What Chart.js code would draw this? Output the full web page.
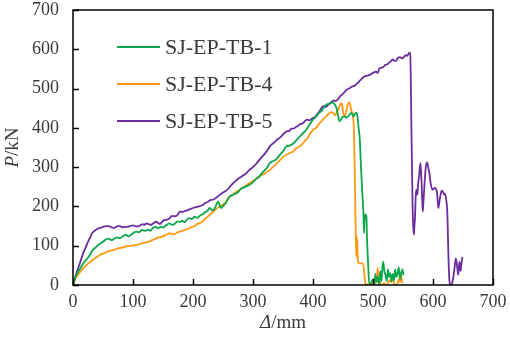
<!DOCTYPE html>
<html>
<head>
<meta charset="utf-8">
<script src="https://cdn.jsdelivr.net/npm/chart.js@4.4.1/dist/chart.umd.min.js"></script>
<style>
  html, body { margin: 0; padding: 0; background: #fff; }
  #c { display: block; }
</style>
</head>
<body>
<canvas id="c" width="510" height="342"></canvas>
<script>
// displacement (mm) / load (kN)
const tb1X = [0,4,8,12,17,22,27,33,38,42,46,50,55,60,64,68,73,78,83,88,92,96,101,106,110,115,120,125,129,133,138,142,146,150,155,161,165,170,174,178,182,186,190,194,198,203,207,212,216,220,224,228,232,235,239,242,245,247,251,254,258,261,266,270,275,280,285,290,294,300,305,310,314,318,323,328,333,337,340,345,350,356,361,367,372,378,383,387,390,395,400,405,410,415,418,422,426,430,433,436,439,442,444,447,450,453,456,460,464,467,470,472,474,476,478,480,482,484,485,486,487,489,490,492,494,497,500,502,504,506,508,510,512,514,516,517,519,521,523,525,527,529,531,533,535,537,539,541,543,545,547,549,551];
const tb1Y = [0,20,32,42,55,64,74,89,96,102,106,110,116,118,114,117,121,119,124,128,124,127,133,136,134,140,138,141,138,145,148,144,148,146,152,157,153,156,162,160,164,160,167,170,168,174,171,177,180,185,189,196,190,192,205,213,200,196,203,207,218,225,229,232,236,245,248,252,255,262,270,275,283,290,298,310,315,318,322,332,340,353,355,360,368,378,386,392,398,410,421,428,438,444,452,459,461,463,465,460,451,430,417,422,428,429,426,432,438,429,436,438,430,400,370,300,240,183,132,170,180,175,120,50,0,5,15,0,28,8,20,0,35,10,50,59,35,25,10,40,20,30,8,28,12,40,20,30,45,15,30,40,25];

const tb4X = [0,4,8,12,17,22,27,32,37,42,46,50,55,60,65,70,75,78,83,88,93,98,102,106,110,115,120,125,129,133,138,142,147,151,156,161,165,170,174,178,182,186,190,194,198,203,207,212,216,220,224,228,232,236,240,245,250,255,261,265,270,275,280,285,290,294,300,305,310,314,318,323,328,333,337,340,345,350,356,361,367,372,378,383,387,390,395,400,405,410,415,418,422,426,430,434,437,440,442,445,447,449,450,452,453,455,457,459,460,462,463,465,466,468,469,470,471,472,473,474,475,477,480,483,485,486,488,490,493,496,499,502,505,507,508,509,511,513,516,519,522,525,527,529,531,533,535,537,540,543,545,547,548,550];
const tb4Y = [0,15,25,33,43,50,57,63,69,73,78,80,83,86,88,90,93,94,96,98,99,100,101,102,104,106,108,110,112,115,118,121,122,125,128,132,129,130,134,136,138,140,142,145,148,150,155,158,162,168,173,179,184,190,195,200,205,212,225,228,235,240,245,250,255,259,265,270,276,280,282,288,293,300,305,310,318,325,332,336,340,348,353,360,368,372,385,395,400,410,418,424,429,436,440,438,432,440,446,458,463,455,440,432,429,440,455,463,465,460,450,440,438,400,340,250,150,72,123,100,60,55,55,55,40,20,0,2,0,5,0,3,8,30,43,20,10,0,2,4,0,5,12,8,18,21,5,0,0,15,8,30,10,5];

const tb5X = [0,4,8,12,17,21,25,29,32,35,38,41,44,47,50,55,60,64,68,72,75,78,82,86,90,95,100,104,108,112,116,119,122,126,130,134,139,142,145,148,152,156,161,165,170,174,178,182,186,190,195,200,205,210,215,220,225,229,233,237,241,245,250,255,259,263,267,271,275,280,285,289,294,300,305,311,316,320,324,328,333,337,340,345,350,356,361,364,367,372,375,378,383,387,390,394,397,400,404,407,410,413,417,421,425,430,435,438,441,445,449,452,456,460,465,470,475,478,482,485,490,495,500,505,508,510,514,518,520,524,527,530,533,536,539,542,545,548,550,553,555,557,559,560,562,563,564,565,566,567,568,569,570,571,572,573,574,575,577,579,580,581,582,583,584,586,588,590,592,594,596,599,601,604,606,607,608,609,610,612,614,615,617,619,620,622,624,625,626,627,628,630,632,634,636,638,640,642,643,644,645,646,647,649];
const tb5Y = [0,22,40,58,81,95,110,122,132,137,140,143,145,146,148,150,150,147,145,148,150,150,147,148,148,150,152,150,149,152,155,153,157,155,153,157,161,158,155,160,165,166,170,176,175,178,187,186,188,190,193,196,198,200,203,208,212,216,217,220,225,230,235,240,245,253,259,265,270,275,280,285,293,300,308,319,328,335,343,353,360,365,370,375,383,391,393,398,398,403,405,409,412,418,421,419,422,425,428,435,440,448,455,453,458,465,470,468,472,480,485,490,497,500,505,508,515,520,526,530,533,535,540,543,540,550,553,556,560,562,566,570,574,570,572,579,580,577,578,583,585,583,588,591,590,520,400,300,200,150,128,150,170,220,242,230,232,255,280,310,290,260,215,187,210,260,300,312,300,285,260,242,245,247,240,230,210,196,205,225,238,240,236,230,232,217,180,120,60,20,4,0,5,21,45,68,50,26,40,59,50,36,50,71];

const seriesNames = ['SJ-EP-TB-1', 'SJ-EP-TB-4', 'SJ-EP-TB-5'];
const seriesColors = ['#0aa84a', '#ff9a10', '#6a2c9e'];
const xTicks = [0, 100, 200, 300, 400, 500, 600, 700];
const yTicks = [0, 100, 200, 300, 400, 500, 600, 700];

const FONT = '"Liberation Serif", "Times New Roman", serif';
const TEXT = '#3a3a3a';

const toPts = (xs, ys) => xs.map((x, i) => ({ x, y: ys[i] }));
const allX = [tb1X, tb4X, tb5X];
const allY = [tb1Y, tb4Y, tb5Y];

const datasets = seriesNames.map((name, i) => ({
    label: name,
    data: toPts(allX[i], allY[i]),
    borderColor: seriesColors[i],
    borderWidth: 1.8,
    pointRadius: 0,
    showLine: true,
    cubicInterpolationMode: 'monotone',
    fill: false,
}));

// frame, inward ticks, axis titles, legend
const decor = {
    id: 'decor',
    afterDraw(chart) {
        const { ctx, chartArea: a, scales: { x, y } } = chart;
        ctx.save();
        ctx.strokeStyle = '#000';
        ctx.lineWidth = 1.5;
        ctx.strokeRect(a.left, a.top, a.right - a.left, a.bottom - a.top);
        ctx.beginPath();
        xTicks.forEach(v => {
            const px = Math.round(x.getPixelForValue(v)) + 0.5;
            ctx.moveTo(px, a.bottom); ctx.lineTo(px, a.bottom - 6);
        });
        yTicks.forEach(v => {
            const py = Math.round(y.getPixelForValue(v)) + 0.5;
            ctx.moveTo(a.left, py); ctx.lineTo(a.left + 6, py);
        });
        ctx.stroke();

        // axis titles with italic symbol
        ctx.fillStyle = TEXT;
        ctx.textBaseline = 'middle';
        const drawMixed = (parts, cx, cy) => {
            let w = 0;
            parts.forEach(p => { ctx.font = p[1]; w += ctx.measureText(p[0]).width; });
            let cur = cx - w / 2;
            ctx.textAlign = 'left';
            parts.forEach(p => { ctx.font = p[1]; ctx.fillText(p[0], cur, cy); cur += ctx.measureText(p[0]).width; });
        };
        drawMixed([['Δ', 'italic 19px ' + FONT], ['/mm', '19px ' + FONT]], (a.left + a.right) / 2, 323);
        ctx.save();
        ctx.translate(13, (a.top + a.bottom) / 2);
        ctx.rotate(-Math.PI / 2);
        drawMixed([['P', 'italic 19px ' + FONT], ['/kN', '19px ' + FONT]], 0, 0);
        ctx.restore();

        // legend
        ctx.font = '22px ' + FONT;
        ctx.textAlign = 'left';
        chart.data.datasets.forEach((ds, i) => {
            const ly = 47 + i * 37;
            ctx.strokeStyle = ds.borderColor;
            ctx.lineWidth = 2;
            ctx.beginPath();
            ctx.moveTo(117, ly); ctx.lineTo(160, ly);
            ctx.stroke();
            ctx.fillStyle = TEXT;
            ctx.fillText(ds.label, 165, ly + 1);
        });
        ctx.restore();
    }
};

new Chart(document.getElementById('c'), {
    type: 'scatter',
    data: { datasets },
    options: {
        responsive: false,
        animation: false,
        layout: { padding: { top: 10, right: 17, left: 0, bottom: 0 } },
        plugins: { legend: { display: false }, tooltip: { enabled: false } },
        scales: {
            x: {
                type: 'linear', min: 0, max: 700,
                afterBuildTicks: s => { s.ticks = xTicks.map(v => ({ value: v })); },
                afterFit: s => { s.height = 57; s.paddingLeft = 0; s.paddingRight = 0; },
                grid: { display: false, drawTicks: false },
                border: { display: false },
                ticks: { color: TEXT, font: { family: FONT, size: 18 }, padding: 6, maxRotation: 0 },
            },
            y: {
                type: 'linear', min: 0, max: 700,
                afterBuildTicks: s => { s.ticks = yTicks.map(v => ({ value: v })); },
                afterFit: s => { s.width = 73; s.paddingTop = 0; s.paddingBottom = 0; },
                grid: { display: false, drawTicks: false },
                border: { display: false },
                ticks: { color: TEXT, font: { family: FONT, size: 18 }, padding: 14 },
            },
        },
    },
    plugins: [decor],
});
</script>
</body>
</html>
